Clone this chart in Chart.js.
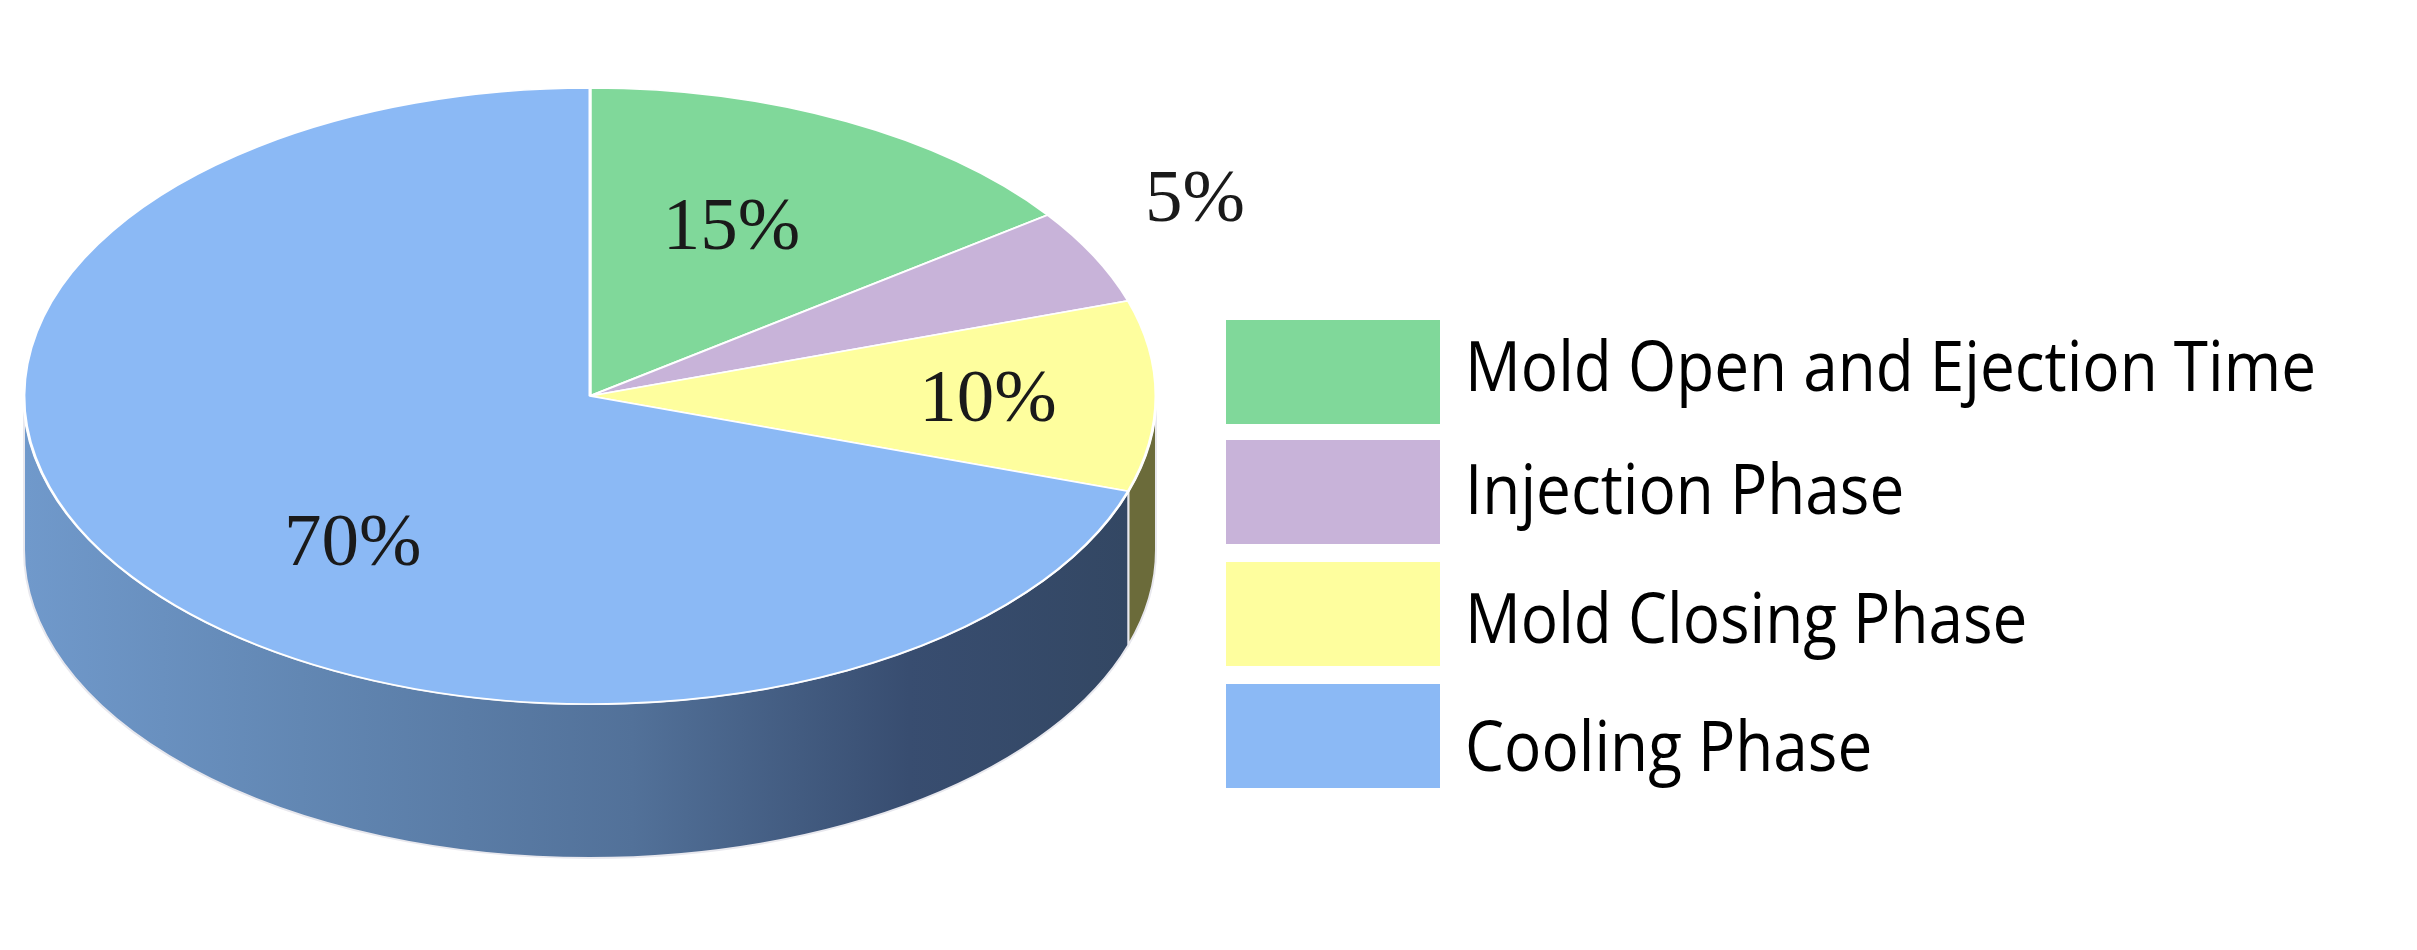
<!DOCTYPE html>
<html>
<head>
<meta charset="utf-8">
<title>Cycle time</title>
<script src="https://cdn.jsdelivr.net/npm/chart.js@4"></script>
<style>
    html, body { margin: 0; padding: 0; background: #fff; }
    canvas { display: block; }
</style>
</head>
<body>
<canvas id="cycleChart" width="2417" height="950"></canvas>
<script>
var phases = ['Mold Open and Ejection Time', 'Injection Phase', 'Mold Closing Phase', 'Cooling Phase'];
var shares = [15, 5, 10, 70];
var sliceColors = ['#80d89a', '#c8b3d9', '#fefe9e', '#8bb9f5'];

// pie is drawn as a flat circle then squashed to get the tilted look
var radius = 566;
var squash = 308 / 566;
var depth = 154;

// where the percent labels sit, in radius units from the centre
var labelSpots = [[0.25, -0.56], [1.069, -0.649], [0.703, 0], [-0.419, 0.468]];

var legendBoxTops = [320, 440, 562, 684];
var legendBaselines = [391, 514, 643, 771];

function sideFill(ctx, index)
{
    if(index === 2) {
        return '#6b6b3a';
    }
    var grad = ctx.createLinearGradient(25, 0, 1130, 0);
    grad.addColorStop(0, '#7099cb');
    grad.addColorStop(0.25, '#6287b3');
    grad.addColorStop(0.55, '#527199');
    grad.addColorStop(0.8, '#384d70');
    grad.addColorStop(1, '#334763');
    return grad;
}

var tiltedPie = {
    id: 'tiltedPie',
    beforeDatasetsDraw: function(chart) {
        var ctx = chart.ctx;
        var arcs = chart.getDatasetMeta(0).data;

        // side wall, only the part of each slice that faces the front
        arcs.forEach(function(arc, i) {
            var from = Math.max(arc.startAngle, 0);
            var to = Math.min(arc.endAngle, Math.PI);
            if(to <= from) {
                return;
            }
            var ry = arc.outerRadius * squash;
            ctx.save();
            ctx.beginPath();
            ctx.ellipse(arc.x, arc.y, arc.outerRadius, ry, 0, from, to);
            ctx.ellipse(arc.x, arc.y + depth, arc.outerRadius, ry, 0, to, from, true);
            ctx.closePath();
            ctx.fillStyle = sideFill(ctx, i);
            ctx.fill();
            ctx.strokeStyle = '#e8e8ee';
            ctx.lineWidth = 2;
            ctx.stroke();
            ctx.restore();
        });

        ctx.save();
        ctx.translate(arcs[0].x, arcs[0].y);
        ctx.scale(1, squash);
        ctx.translate(-arcs[0].x, -arcs[0].y);
    },
    afterDatasetsDraw: function(chart) {
        var ctx = chart.ctx;
        ctx.restore();

        var arcs = chart.getDatasetMeta(0).data;
        ctx.save();
        ctx.font = '75px "Liberation Serif"';
        ctx.fillStyle = '#1a1a1a';
        ctx.textAlign = 'center';
        ctx.textBaseline = 'alphabetic';
        arcs.forEach(function(arc, i) {
            var x = arc.x + labelSpots[i][0] * arc.outerRadius;
            var y = arc.y + labelSpots[i][1] * arc.outerRadius * squash;
            ctx.fillText(shares[i] + '%', x, y + 25);
        });
        ctx.restore();
    }
};

var sideLegend = {
    id: 'sideLegend',
    afterDraw: function(chart) {
        var ctx = chart.ctx;
        ctx.save();
        ctx.font = '69px "Open Sans"';
        ctx.fillStyle = '#000';
        ctx.textAlign = 'left';
        ctx.textBaseline = 'alphabetic';
        // the legend font is narrower than anything installed
        var stretch = 851 / ctx.measureText(phases[0]).width;
        phases.forEach(function(name, i) {
            ctx.fillStyle = sliceColors[i];
            ctx.fillRect(1226, legendBoxTops[i], 214, 104);
            ctx.save();
            ctx.translate(1465, legendBaselines[i]);
            ctx.scale(stretch, 1);
            ctx.fillStyle = '#000';
            ctx.fillText(name, 0, 0);
            ctx.restore();
        });
        ctx.restore();
    }
};

new Chart(document.getElementById('cycleChart'), {
    type: 'pie',
    data: {
        labels: phases,
        datasets: [{
            data: shares,
            backgroundColor: sliceColors,
            borderColor: '#ffffff',
            borderWidth: 3,
            clip: false
        }]
    },
    options: {
        responsive: false,
        devicePixelRatio: 1,
        animation: false,
        radius: radius,
        layout: {
            padding: { left: 0, top: 0, right: 1237, bottom: 158 }
        },
        plugins: {
            legend: { display: false },
            tooltip: { enabled: false }
        }
    },
    plugins: [tiltedPie, sideLegend]
});
</script>
</body>
</html>
